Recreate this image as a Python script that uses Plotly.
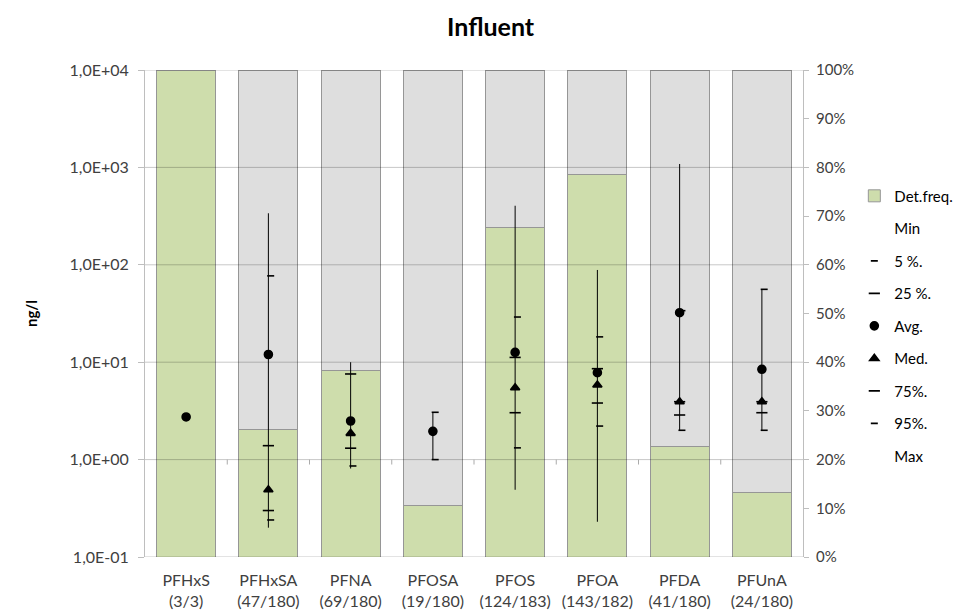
import plotly.graph_objects as go

# Compounds measured in influent, with detected / analysed sample counts
compounds = ["PFHxS", "PFHxSA", "PFNA", "PFOSA", "PFOS", "PFOA", "PFDA", "PFUnA"]
detected = [3, 47, 69, 19, 124, 143, 41, 24]
analysed = [3, 180, 180, 180, 183, 182, 180, 180]

# Concentration statistics, ng/l (None where not reported)
v_min = [None, 0.20, 0.81, 1.00, 0.49, 0.23, 2.0, 2.0]
v_p5 = [None, 0.24, 0.86, 1.00, 1.32, 2.21, 2.0, 2.0]
v_p25 = [None, 0.30, 1.31, None, 3.03, 3.81, 2.87, 3.03]
v_avg = [2.74, 12.0, 2.49, 1.95, 12.6, 7.80, 32.2, 8.46]
v_med = [None, 0.49, 1.86, None, 5.47, 5.83, 3.93, 3.93]
v_p75 = [None, 1.39, 7.57, None, 11.2, 8.58, 3.93, 3.93]
v_p95 = [None, 77.0, None, 3.06, 29.1, 18.2, 33.8, 56.0]
v_max = [None, 338.0, 10.0, 3.06, 404.0, 88.5, 1084.0, 56.0]

# Left (log) axis ticks
log_tickvals = [0.1, 1, 10, 100, 1000, 10000]
log_ticktext = ["1,0E-01", "1,0E+00", "1,0E+01", "1,0E+02", "1,0E+03", "1,0E+04"]

# Right (percentage) axis ticks
pct_tickvals = list(range(0, 101, 10))
pct_ticktext = [f"{v}%" for v in pct_tickvals]

FONT = "Lato, 'Open Sans', sans-serif"
TXT = "#404040"
GREEN = "rgb(206,221,172)"
GREY = "rgb(222,222,222)"
EDGE = "rgb(150,150,150)"
GRID = "rgba(0,0,0,0.22)"
AXIS = "rgb(190,190,190)"

n = len(compounds)
xs = list(range(n))
det_pct = [100.0 * d / a for d, a in zip(detected, analysed)]
nondet_pct = [100.0 - p for p in det_pct]
xlabels = [f"{c}<br>({d}/{a})" for c, d, a in zip(compounds, detected, analysed)]

SHORT_SHIFT = 0.028  # small dashes (5 % / 95 %) sit just right of the whisker

fig = go.Figure()

# Detection-frequency bars (right axis), stacked with the non-detected share
fig.add_trace(go.Bar(
    x=xs, y=det_pct, name="Det.freq.", yaxis="y",
    marker=dict(color=GREEN, line=dict(color=EDGE, width=1)),
    width=0.72, legendgroup="g0",
))
fig.add_trace(go.Bar(
    x=xs, y=nondet_pct, name="nd", yaxis="y", showlegend=False,
    marker=dict(color=GREY, line=dict(color=EDGE, width=1)),
    width=0.72, hoverinfo="skip", legendgroup="g0",
))

# Min–max whiskers
wx, wy = [], []
for i in xs:
    if v_min[i] is not None and v_max[i] is not None:
        wx += [i, i, None]
        wy += [v_min[i], v_max[i], None]
fig.add_trace(go.Scatter(
    x=wx, y=wy, mode="lines", yaxis="y2", showlegend=False,
    line=dict(color="black", width=1), hoverinfo="skip", legendgroup="g1",
))


def stat_trace(name, vals, symbol, size, group, shift=0.0, visible_marker=True):
    px = [i + shift for i in xs]
    marker = dict(symbol=symbol, size=size, color="black",
                  line=dict(color="black", width=1.6))
    if not visible_marker:
        marker = dict(symbol="circle", size=1, color="rgba(0,0,0,0)",
                      line=dict(width=0))
    fig.add_trace(go.Scatter(
        x=px, y=vals, mode="markers", name=name, yaxis="y2",
        marker=marker, legendgroup=group,
    ))


stat_trace("Min", v_min, "circle", 1, "g1", visible_marker=False)
stat_trace("5 %.", v_p5, "line-ew", 5, "g2", shift=SHORT_SHIFT)
stat_trace("25 %.", v_p25, "line-ew", 8, "g3")
stat_trace("Avg.", v_avg, "circle", 8, "g4")
stat_trace("Med.", v_med, "triangle-up", 8, "g5")
stat_trace("75%.", v_p75, "line-ew", 8, "g6")
stat_trace("95%.", v_p95, "line-ew", 5, "g7", shift=SHORT_SHIFT)
stat_trace("Max", v_max, "circle", 1, "g8", visible_marker=False)

# Horizontal gridlines drawn over the bars at each decade
shapes = []
for v in log_tickvals:
    shapes.append(dict(type="line", xref="paper", yref="y2", x0=0, x1=1,
                       y0=v, y1=v, line=dict(color=GRID, width=1),
                       layer="above"))
# Category tick marks on the category axis (which crosses at 1 ng/l)
for i in range(n - 1):
    shapes.append(dict(type="line", xref="x", yref="y2", x0=i + 0.5, x1=i + 0.5,
                       y0=1, y1=0.89, line=dict(color="rgb(170,170,170)", width=1),
                       layer="above"))

fig.update_layout(
    width=962, height=613,
    margin=dict(l=145, r=159, t=70, b=56, autoexpand=False),
    paper_bgcolor="white", plot_bgcolor="white",
    font=dict(family=FONT, size=15, color=TXT),
    title=dict(text="<b>Influent</b>", x=0.51, xanchor="center", y=0.955,
               yanchor="middle", font=dict(family=FONT, size=25, color="black")),
    barmode="stack",
    bargap=0.28,
    showlegend=True,
    legend=dict(x=1.078, xanchor="left", y=0.775, yanchor="top",
                font=dict(family=FONT, size=15, color="black"),
                tracegroupgap=10, traceorder="grouped",
                bgcolor="rgba(0,0,0,0)"),
    xaxis=dict(
        range=[-0.5, n - 0.5], tickmode="array", tickvals=xs, ticktext=xlabels,
        showgrid=False, zeroline=False, showline=False, ticks="",
        ticklabelstandoff=12, automargin=False,
        tickfont=dict(family=FONT, size=16, color=TXT),
    ),
    yaxis=dict(
        side="right", range=[0, 100], tickmode="array",
        tickvals=pct_tickvals, ticktext=pct_ticktext,
        showgrid=False, zeroline=False, showline=True,
        linecolor=AXIS, linewidth=1,
        ticks="outside", ticklen=5, tickcolor=AXIS,
        ticklabelstandoff=4, automargin=False,
        tickfont=dict(family=FONT, size=15, color=TXT),
    ),
    yaxis2=dict(
        type="log", overlaying="y", side="left", range=[-1, 4],
        tickmode="array", tickvals=log_tickvals, ticktext=log_ticktext,
        showgrid=False, zeroline=False, showline=True,
        linecolor=AXIS, linewidth=1,
        ticks="outside", ticklen=6, tickcolor=AXIS,
        ticklabelstandoff=6, automargin=False,
        tickfont=dict(family=FONT, size=16, color=TXT),
        title=dict(text="<b>ng/l</b>", standoff=28,
                   font=dict(family=FONT, size=15, color="black")),
    ),
    shapes=shapes,
)

fig.write_html("out.html")
